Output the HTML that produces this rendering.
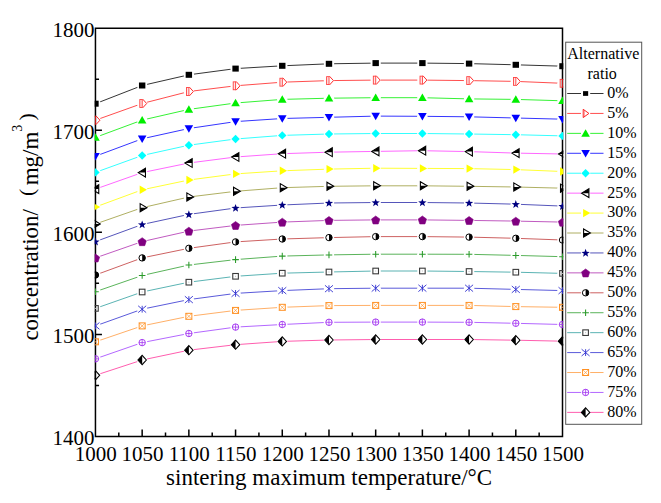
<!DOCTYPE html>
<html><head><meta charset="utf-8"><style>
html,body{margin:0;padding:0;background:#fff;}
body{width:661px;height:503px;overflow:hidden;}
svg{display:block;font-family:"Liberation Serif",serif;}
</style></head><body>
<svg width="661" height="503" viewBox="0 0 661 503">
<rect width="661" height="503" fill="#fff"/>
<defs><clipPath id="pc"><rect x="94.7" y="27" width="468.6" height="410.3"/></clipPath>
<mask id="m0" maskUnits="userSpaceOnUse" x="0" y="0" width="661" height="503"><rect x="0" y="0" width="661" height="503" fill="#fff"/><circle cx="95.45" cy="103.70" r="5.2" fill="#000"/><circle cx="142.16" cy="85.50" r="5.2" fill="#000"/><circle cx="188.86" cy="74.80" r="5.2" fill="#000"/><circle cx="235.56" cy="68.60" r="5.2" fill="#000"/><circle cx="282.27" cy="65.80" r="5.2" fill="#000"/><circle cx="328.98" cy="63.80" r="5.2" fill="#000"/><circle cx="375.68" cy="63.10" r="5.2" fill="#000"/><circle cx="422.38" cy="63.10" r="5.2" fill="#000"/><circle cx="469.09" cy="63.60" r="5.2" fill="#000"/><circle cx="515.80" cy="64.80" r="5.2" fill="#000"/><circle cx="562.50" cy="66.20" r="5.2" fill="#000"/></mask>
<mask id="m1" maskUnits="userSpaceOnUse" x="0" y="0" width="661" height="503"><rect x="0" y="0" width="661" height="503" fill="#fff"/><circle cx="95.45" cy="120.20" r="5.2" fill="#000"/><circle cx="142.16" cy="103.50" r="5.2" fill="#000"/><circle cx="188.86" cy="91.50" r="5.2" fill="#000"/><circle cx="235.56" cy="85.80" r="5.2" fill="#000"/><circle cx="282.27" cy="82.20" r="5.2" fill="#000"/><circle cx="328.98" cy="80.60" r="5.2" fill="#000"/><circle cx="375.68" cy="80.10" r="5.2" fill="#000"/><circle cx="422.38" cy="80.10" r="5.2" fill="#000"/><circle cx="469.09" cy="80.60" r="5.2" fill="#000"/><circle cx="515.80" cy="81.40" r="5.2" fill="#000"/><circle cx="562.50" cy="83.30" r="5.2" fill="#000"/></mask>
<mask id="m2" maskUnits="userSpaceOnUse" x="0" y="0" width="661" height="503"><rect x="0" y="0" width="661" height="503" fill="#fff"/><circle cx="95.45" cy="137.40" r="5.2" fill="#000"/><circle cx="142.16" cy="120.10" r="5.2" fill="#000"/><circle cx="188.86" cy="109.40" r="5.2" fill="#000"/><circle cx="235.56" cy="103.00" r="5.2" fill="#000"/><circle cx="282.27" cy="99.40" r="5.2" fill="#000"/><circle cx="328.98" cy="98.20" r="5.2" fill="#000"/><circle cx="375.68" cy="97.70" r="5.2" fill="#000"/><circle cx="422.38" cy="97.70" r="5.2" fill="#000"/><circle cx="469.09" cy="98.90" r="5.2" fill="#000"/><circle cx="515.80" cy="99.40" r="5.2" fill="#000"/><circle cx="562.50" cy="100.80" r="5.2" fill="#000"/></mask>
<mask id="m3" maskUnits="userSpaceOnUse" x="0" y="0" width="661" height="503"><rect x="0" y="0" width="661" height="503" fill="#fff"/><circle cx="95.45" cy="156.20" r="5.2" fill="#000"/><circle cx="142.16" cy="138.80" r="5.2" fill="#000"/><circle cx="188.86" cy="128.50" r="5.2" fill="#000"/><circle cx="235.56" cy="121.60" r="5.2" fill="#000"/><circle cx="282.27" cy="118.50" r="5.2" fill="#000"/><circle cx="328.98" cy="117.30" r="5.2" fill="#000"/><circle cx="375.68" cy="116.10" r="5.2" fill="#000"/><circle cx="422.38" cy="116.30" r="5.2" fill="#000"/><circle cx="469.09" cy="116.80" r="5.2" fill="#000"/><circle cx="515.80" cy="118.00" r="5.2" fill="#000"/><circle cx="562.50" cy="119.20" r="5.2" fill="#000"/></mask>
<mask id="m4" maskUnits="userSpaceOnUse" x="0" y="0" width="661" height="503"><rect x="0" y="0" width="661" height="503" fill="#fff"/><circle cx="95.45" cy="172.40" r="5.2" fill="#000"/><circle cx="142.16" cy="155.50" r="5.2" fill="#000"/><circle cx="188.86" cy="145.20" r="5.2" fill="#000"/><circle cx="235.56" cy="139.00" r="5.2" fill="#000"/><circle cx="282.27" cy="135.40" r="5.2" fill="#000"/><circle cx="328.98" cy="134.00" r="5.2" fill="#000"/><circle cx="375.68" cy="133.50" r="5.2" fill="#000"/><circle cx="422.38" cy="133.50" r="5.2" fill="#000"/><circle cx="469.09" cy="134.00" r="5.2" fill="#000"/><circle cx="515.80" cy="134.70" r="5.2" fill="#000"/><circle cx="562.50" cy="135.90" r="5.2" fill="#000"/></mask>
<mask id="m5" maskUnits="userSpaceOnUse" x="0" y="0" width="661" height="503"><rect x="0" y="0" width="661" height="503" fill="#fff"/><circle cx="95.45" cy="189.10" r="5.2" fill="#000"/><circle cx="142.16" cy="172.60" r="5.2" fill="#000"/><circle cx="188.86" cy="163.00" r="5.2" fill="#000"/><circle cx="235.56" cy="157.00" r="5.2" fill="#000"/><circle cx="282.27" cy="153.70" r="5.2" fill="#000"/><circle cx="328.98" cy="152.20" r="5.2" fill="#000"/><circle cx="375.68" cy="151.40" r="5.2" fill="#000"/><circle cx="422.38" cy="150.70" r="5.2" fill="#000"/><circle cx="469.09" cy="151.60" r="5.2" fill="#000"/><circle cx="515.80" cy="153.10" r="5.2" fill="#000"/><circle cx="562.50" cy="154.00" r="5.2" fill="#000"/></mask>
<mask id="m6" maskUnits="userSpaceOnUse" x="0" y="0" width="661" height="503"><rect x="0" y="0" width="661" height="503" fill="#fff"/><circle cx="95.45" cy="207.00" r="5.2" fill="#000"/><circle cx="142.16" cy="189.80" r="5.2" fill="#000"/><circle cx="188.86" cy="180.00" r="5.2" fill="#000"/><circle cx="235.56" cy="173.90" r="5.2" fill="#000"/><circle cx="282.27" cy="170.80" r="5.2" fill="#000"/><circle cx="328.98" cy="169.10" r="5.2" fill="#000"/><circle cx="375.68" cy="168.20" r="5.2" fill="#000"/><circle cx="422.38" cy="168.40" r="5.2" fill="#000"/><circle cx="469.09" cy="168.60" r="5.2" fill="#000"/><circle cx="515.80" cy="169.60" r="5.2" fill="#000"/><circle cx="562.50" cy="171.50" r="5.2" fill="#000"/></mask>
<mask id="m7" maskUnits="userSpaceOnUse" x="0" y="0" width="661" height="503"><rect x="0" y="0" width="661" height="503" fill="#fff"/><circle cx="95.45" cy="224.00" r="5.2" fill="#000"/><circle cx="142.16" cy="207.70" r="5.2" fill="#000"/><circle cx="188.86" cy="197.00" r="5.2" fill="#000"/><circle cx="235.56" cy="191.30" r="5.2" fill="#000"/><circle cx="282.27" cy="187.70" r="5.2" fill="#000"/><circle cx="328.98" cy="186.30" r="5.2" fill="#000"/><circle cx="375.68" cy="185.80" r="5.2" fill="#000"/><circle cx="422.38" cy="185.80" r="5.2" fill="#000"/><circle cx="469.09" cy="186.30" r="5.2" fill="#000"/><circle cx="515.80" cy="187.00" r="5.2" fill="#000"/><circle cx="562.50" cy="188.20" r="5.2" fill="#000"/></mask>
<mask id="m8" maskUnits="userSpaceOnUse" x="0" y="0" width="661" height="503"><rect x="0" y="0" width="661" height="503" fill="#fff"/><circle cx="95.45" cy="241.60" r="5.2" fill="#000"/><circle cx="142.16" cy="224.50" r="5.2" fill="#000"/><circle cx="188.86" cy="214.40" r="5.2" fill="#000"/><circle cx="235.56" cy="208.00" r="5.2" fill="#000"/><circle cx="282.27" cy="205.00" r="5.2" fill="#000"/><circle cx="328.98" cy="203.00" r="5.2" fill="#000"/><circle cx="375.68" cy="202.50" r="5.2" fill="#000"/><circle cx="422.38" cy="202.50" r="5.2" fill="#000"/><circle cx="469.09" cy="203.00" r="5.2" fill="#000"/><circle cx="515.80" cy="204.20" r="5.2" fill="#000"/><circle cx="562.50" cy="206.10" r="5.2" fill="#000"/></mask>
<mask id="m9" maskUnits="userSpaceOnUse" x="0" y="0" width="661" height="503"><rect x="0" y="0" width="661" height="503" fill="#fff"/><circle cx="95.45" cy="257.90" r="5.2" fill="#000"/><circle cx="142.16" cy="241.60" r="5.2" fill="#000"/><circle cx="188.86" cy="231.10" r="5.2" fill="#000"/><circle cx="235.56" cy="225.40" r="5.2" fill="#000"/><circle cx="282.27" cy="222.10" r="5.2" fill="#000"/><circle cx="328.98" cy="220.40" r="5.2" fill="#000"/><circle cx="375.68" cy="219.90" r="5.2" fill="#000"/><circle cx="422.38" cy="219.90" r="5.2" fill="#000"/><circle cx="469.09" cy="220.40" r="5.2" fill="#000"/><circle cx="515.80" cy="221.10" r="5.2" fill="#000"/><circle cx="562.50" cy="222.10" r="5.2" fill="#000"/></mask>
<mask id="m10" maskUnits="userSpaceOnUse" x="0" y="0" width="661" height="503"><rect x="0" y="0" width="661" height="503" fill="#fff"/><circle cx="95.45" cy="275.00" r="5.2" fill="#000"/><circle cx="142.16" cy="257.90" r="5.2" fill="#000"/><circle cx="188.86" cy="248.30" r="5.2" fill="#000"/><circle cx="235.56" cy="241.90" r="5.2" fill="#000"/><circle cx="282.27" cy="239.00" r="5.2" fill="#000"/><circle cx="328.98" cy="237.60" r="5.2" fill="#000"/><circle cx="375.68" cy="236.60" r="5.2" fill="#000"/><circle cx="422.38" cy="236.60" r="5.2" fill="#000"/><circle cx="469.09" cy="237.10" r="5.2" fill="#000"/><circle cx="515.80" cy="238.30" r="5.2" fill="#000"/><circle cx="562.50" cy="240.00" r="5.2" fill="#000"/></mask>
<mask id="m11" maskUnits="userSpaceOnUse" x="0" y="0" width="661" height="503"><rect x="0" y="0" width="661" height="503" fill="#fff"/><circle cx="95.45" cy="291.70" r="5.2" fill="#000"/><circle cx="142.16" cy="275.50" r="5.2" fill="#000"/><circle cx="188.86" cy="265.00" r="5.2" fill="#000"/><circle cx="235.56" cy="259.60" r="5.2" fill="#000"/><circle cx="282.27" cy="256.10" r="5.2" fill="#000"/><circle cx="328.98" cy="254.90" r="5.2" fill="#000"/><circle cx="375.68" cy="254.20" r="5.2" fill="#000"/><circle cx="422.38" cy="254.20" r="5.2" fill="#000"/><circle cx="469.09" cy="254.30" r="5.2" fill="#000"/><circle cx="515.80" cy="255.40" r="5.2" fill="#000"/><circle cx="562.50" cy="256.70" r="5.2" fill="#000"/></mask>
<mask id="m12" maskUnits="userSpaceOnUse" x="0" y="0" width="661" height="503"><rect x="0" y="0" width="661" height="503" fill="#fff"/><circle cx="95.45" cy="308.40" r="5.2" fill="#000"/><circle cx="142.16" cy="292.00" r="5.2" fill="#000"/><circle cx="188.86" cy="282.20" r="5.2" fill="#000"/><circle cx="235.56" cy="276.30" r="5.2" fill="#000"/><circle cx="282.27" cy="273.20" r="5.2" fill="#000"/><circle cx="328.98" cy="272.00" r="5.2" fill="#000"/><circle cx="375.68" cy="271.00" r="5.2" fill="#000"/><circle cx="422.38" cy="271.00" r="5.2" fill="#000"/><circle cx="469.09" cy="271.50" r="5.2" fill="#000"/><circle cx="515.80" cy="272.20" r="5.2" fill="#000"/><circle cx="562.50" cy="273.40" r="5.2" fill="#000"/></mask>
<mask id="m13" maskUnits="userSpaceOnUse" x="0" y="0" width="661" height="503"><rect x="0" y="0" width="661" height="503" fill="#fff"/><circle cx="95.45" cy="325.90" r="5.2" fill="#000"/><circle cx="142.16" cy="309.20" r="5.2" fill="#000"/><circle cx="188.86" cy="299.60" r="5.2" fill="#000"/><circle cx="235.56" cy="293.40" r="5.2" fill="#000"/><circle cx="282.27" cy="290.60" r="5.2" fill="#000"/><circle cx="328.98" cy="288.70" r="5.2" fill="#000"/><circle cx="375.68" cy="288.20" r="5.2" fill="#000"/><circle cx="422.38" cy="288.20" r="5.2" fill="#000"/><circle cx="469.09" cy="288.20" r="5.2" fill="#000"/><circle cx="515.80" cy="289.40" r="5.2" fill="#000"/><circle cx="562.50" cy="290.60" r="5.2" fill="#000"/></mask>
<mask id="m14" maskUnits="userSpaceOnUse" x="0" y="0" width="661" height="503"><rect x="0" y="0" width="661" height="503" fill="#fff"/><circle cx="95.45" cy="341.80" r="5.2" fill="#000"/><circle cx="142.16" cy="325.90" r="5.2" fill="#000"/><circle cx="188.86" cy="316.30" r="5.2" fill="#000"/><circle cx="235.56" cy="310.40" r="5.2" fill="#000"/><circle cx="282.27" cy="307.30" r="5.2" fill="#000"/><circle cx="328.98" cy="305.60" r="5.2" fill="#000"/><circle cx="375.68" cy="305.40" r="5.2" fill="#000"/><circle cx="422.38" cy="305.40" r="5.2" fill="#000"/><circle cx="469.09" cy="305.40" r="5.2" fill="#000"/><circle cx="515.80" cy="306.60" r="5.2" fill="#000"/><circle cx="562.50" cy="307.30" r="5.2" fill="#000"/></mask>
<mask id="m15" maskUnits="userSpaceOnUse" x="0" y="0" width="661" height="503"><rect x="0" y="0" width="661" height="503" fill="#fff"/><circle cx="95.45" cy="358.80" r="5.2" fill="#000"/><circle cx="142.16" cy="342.60" r="5.2" fill="#000"/><circle cx="188.86" cy="333.50" r="5.2" fill="#000"/><circle cx="235.56" cy="327.10" r="5.2" fill="#000"/><circle cx="282.27" cy="324.50" r="5.2" fill="#000"/><circle cx="328.98" cy="322.30" r="5.2" fill="#000"/><circle cx="375.68" cy="322.10" r="5.2" fill="#000"/><circle cx="422.38" cy="322.10" r="5.2" fill="#000"/><circle cx="469.09" cy="322.30" r="5.2" fill="#000"/><circle cx="515.80" cy="323.30" r="5.2" fill="#000"/><circle cx="562.50" cy="324.50" r="5.2" fill="#000"/></mask>
<mask id="m16" maskUnits="userSpaceOnUse" x="0" y="0" width="661" height="503"><rect x="0" y="0" width="661" height="503" fill="#fff"/><circle cx="95.45" cy="375.30" r="5.2" fill="#000"/><circle cx="142.16" cy="360.00" r="5.2" fill="#000"/><circle cx="188.86" cy="350.20" r="5.2" fill="#000"/><circle cx="235.56" cy="344.70" r="5.2" fill="#000"/><circle cx="282.27" cy="341.40" r="5.2" fill="#000"/><circle cx="328.98" cy="340.00" r="5.2" fill="#000"/><circle cx="375.68" cy="339.50" r="5.2" fill="#000"/><circle cx="422.38" cy="339.50" r="5.2" fill="#000"/><circle cx="469.09" cy="339.50" r="5.2" fill="#000"/><circle cx="515.80" cy="340.20" r="5.2" fill="#000"/><circle cx="562.50" cy="341.20" r="5.2" fill="#000"/></mask>
</defs>
<g clip-path="url(#pc)">
<path d="M95.45,103.70 L142.16,85.50 L188.86,74.80 L235.56,68.60 L282.27,65.80 L328.98,63.80 L375.68,63.10 L422.38,63.10 L469.09,63.60 L515.80,64.80 L562.50,66.20" fill="none" stroke="#000000" stroke-width="0.8" mask="url(#m0)"/>
<path d="M95.45,120.20 L142.16,103.50 L188.86,91.50 L235.56,85.80 L282.27,82.20 L328.98,80.60 L375.68,80.10 L422.38,80.10 L469.09,80.60 L515.80,81.40 L562.50,83.30" fill="none" stroke="#ff2020" stroke-width="0.8" mask="url(#m1)"/>
<path d="M95.45,137.40 L142.16,120.10 L188.86,109.40 L235.56,103.00 L282.27,99.40 L328.98,98.20 L375.68,97.70 L422.38,97.70 L469.09,98.90 L515.80,99.40 L562.50,100.80" fill="none" stroke="#00ee00" stroke-width="0.8" mask="url(#m2)"/>
<path d="M95.45,156.20 L142.16,138.80 L188.86,128.50 L235.56,121.60 L282.27,118.50 L328.98,117.30 L375.68,116.10 L422.38,116.30 L469.09,116.80 L515.80,118.00 L562.50,119.20" fill="none" stroke="#0000ff" stroke-width="0.8" mask="url(#m3)"/>
<path d="M95.45,172.40 L142.16,155.50 L188.86,145.20 L235.56,139.00 L282.27,135.40 L328.98,134.00 L375.68,133.50 L422.38,133.50 L469.09,134.00 L515.80,134.70 L562.50,135.90" fill="none" stroke="#00ffff" stroke-width="0.8" mask="url(#m4)"/>
<path d="M95.45,189.10 L142.16,172.60 L188.86,163.00 L235.56,157.00 L282.27,153.70 L328.98,152.20 L375.68,151.40 L422.38,150.70 L469.09,151.60 L515.80,153.10 L562.50,154.00" fill="none" stroke="#ff40ff" stroke-width="0.8" mask="url(#m5)"/>
<path d="M95.45,207.00 L142.16,189.80 L188.86,180.00 L235.56,173.90 L282.27,170.80 L328.98,169.10 L375.68,168.20 L422.38,168.40 L469.09,168.60 L515.80,169.60 L562.50,171.50" fill="none" stroke="#ffff00" stroke-width="0.8" mask="url(#m6)"/>
<path d="M95.45,224.00 L142.16,207.70 L188.86,197.00 L235.56,191.30 L282.27,187.70 L328.98,186.30 L375.68,185.80 L422.38,185.80 L469.09,186.30 L515.80,187.00 L562.50,188.20" fill="none" stroke="#9a9a3a" stroke-width="0.8" mask="url(#m7)"/>
<path d="M95.45,241.60 L142.16,224.50 L188.86,214.40 L235.56,208.00 L282.27,205.00 L328.98,203.00 L375.68,202.50 L422.38,202.50 L469.09,203.00 L515.80,204.20 L562.50,206.10" fill="none" stroke="#2a2aa8" stroke-width="0.8" mask="url(#m8)"/>
<path d="M95.45,257.90 L142.16,241.60 L188.86,231.10 L235.56,225.40 L282.27,222.10 L328.98,220.40 L375.68,219.90 L422.38,219.90 L469.09,220.40 L515.80,221.10 L562.50,222.10" fill="none" stroke="#b030b0" stroke-width="0.8" mask="url(#m9)"/>
<path d="M95.45,275.00 L142.16,257.90 L188.86,248.30 L235.56,241.90 L282.27,239.00 L328.98,237.60 L375.68,236.60 L422.38,236.60 L469.09,237.10 L515.80,238.30 L562.50,240.00" fill="none" stroke="#c03838" stroke-width="0.8" mask="url(#m10)"/>
<path d="M95.45,291.70 L142.16,275.50 L188.86,265.00 L235.56,259.60 L282.27,256.10 L328.98,254.90 L375.68,254.20 L422.38,254.20 L469.09,254.30 L515.80,255.40 L562.50,256.70" fill="none" stroke="#30a030" stroke-width="0.8" mask="url(#m11)"/>
<path d="M95.45,308.40 L142.16,292.00 L188.86,282.20 L235.56,276.30 L282.27,273.20 L328.98,272.00 L375.68,271.00 L422.38,271.00 L469.09,271.50 L515.80,272.20 L562.50,273.40" fill="none" stroke="#30a0a0" stroke-width="0.8" mask="url(#m12)"/>
<path d="M95.45,325.90 L142.16,309.20 L188.86,299.60 L235.56,293.40 L282.27,290.60 L328.98,288.70 L375.68,288.20 L422.38,288.20 L469.09,288.20 L515.80,289.40 L562.50,290.60" fill="none" stroke="#3030d0" stroke-width="0.8" mask="url(#m13)"/>
<path d="M95.45,341.80 L142.16,325.90 L188.86,316.30 L235.56,310.40 L282.27,307.30 L328.98,305.60 L375.68,305.40 L422.38,305.40 L469.09,305.40 L515.80,306.60 L562.50,307.30" fill="none" stroke="#ff9a40" stroke-width="0.8" mask="url(#m14)"/>
<path d="M95.45,358.80 L142.16,342.60 L188.86,333.50 L235.56,327.10 L282.27,324.50 L328.98,322.30 L375.68,322.10 L422.38,322.10 L469.09,322.30 L515.80,323.30 L562.50,324.50" fill="none" stroke="#a040ff" stroke-width="0.8" mask="url(#m15)"/>
<path d="M95.45,375.30 L142.16,360.00 L188.86,350.20 L235.56,344.70 L282.27,341.40 L328.98,340.00 L375.68,339.50 L422.38,339.50 L469.09,339.50 L515.80,340.20 L562.50,341.20" fill="none" stroke="#ff3399" stroke-width="0.8" mask="url(#m16)"/>
</g>
<path d="M95.45,28.3 V436.4 H562.5 V28.3 Z" fill="none" stroke="#000" stroke-width="1.5"/>
<path d="M95.45,385.39 h3.6 M95.45,334.38 h6.5 M95.45,283.36 h3.6 M95.45,232.35 h6.5 M95.45,181.34 h3.6 M95.45,130.32 h6.5 M95.45,79.31 h3.6 M118.80,436.4 v-3.8 M142.16,436.4 v-7 M165.51,436.4 v-3.8 M188.86,436.4 v-7 M212.21,436.4 v-3.8 M235.56,436.4 v-7 M258.92,436.4 v-3.8 M282.27,436.4 v-7 M305.62,436.4 v-3.8 M328.98,436.4 v-7 M352.33,436.4 v-3.8 M375.68,436.4 v-7 M399.03,436.4 v-3.8 M422.38,436.4 v-7 M445.74,436.4 v-3.8 M469.09,436.4 v-7 M492.44,436.4 v-3.8 M515.80,436.4 v-7 M539.15,436.4 v-3.8" stroke="#000" stroke-width="1.5" fill="none"/>
<g clip-path="url(#pc)">
<rect x="92.25" y="100.70" width="6.40" height="6.00" fill="#000"/>
<rect x="138.96" y="82.50" width="6.40" height="6.00" fill="#000"/>
<rect x="185.66" y="71.80" width="6.40" height="6.00" fill="#000"/>
<rect x="232.37" y="65.60" width="6.40" height="6.00" fill="#000"/>
<rect x="279.07" y="62.80" width="6.40" height="6.00" fill="#000"/>
<rect x="325.78" y="60.80" width="6.40" height="6.00" fill="#000"/>
<rect x="372.48" y="60.10" width="6.40" height="6.00" fill="#000"/>
<rect x="419.19" y="60.10" width="6.40" height="6.00" fill="#000"/>
<rect x="465.89" y="60.60" width="6.40" height="6.00" fill="#000"/>
<rect x="512.60" y="61.80" width="6.40" height="6.00" fill="#000"/>
<rect x="559.30" y="63.20" width="6.40" height="6.00" fill="#000"/>
<rect x="93.10" y="116.25" width="2.40" height="7.90" fill="#ff2020" fill-opacity="0.12" stroke="#ff2020" stroke-opacity="0.85" stroke-width="0.9"/><path d="M95.95,115.80 L99.95,120.20 L95.95,124.60" fill="none" stroke="#ff2020" stroke-width="0.95"/>
<rect x="139.80" y="99.55" width="2.40" height="7.90" fill="#ff2020" fill-opacity="0.12" stroke="#ff2020" stroke-opacity="0.85" stroke-width="0.9"/><path d="M142.66,99.10 L146.66,103.50 L142.66,107.90" fill="none" stroke="#ff2020" stroke-width="0.95"/>
<rect x="186.51" y="87.55" width="2.40" height="7.90" fill="#ff2020" fill-opacity="0.12" stroke="#ff2020" stroke-opacity="0.85" stroke-width="0.9"/><path d="M189.36,87.10 L193.36,91.50 L189.36,95.90" fill="none" stroke="#ff2020" stroke-width="0.95"/>
<rect x="233.21" y="81.85" width="2.40" height="7.90" fill="#ff2020" fill-opacity="0.12" stroke="#ff2020" stroke-opacity="0.85" stroke-width="0.9"/><path d="M236.06,81.40 L240.06,85.80 L236.06,90.20" fill="none" stroke="#ff2020" stroke-width="0.95"/>
<rect x="279.92" y="78.25" width="2.40" height="7.90" fill="#ff2020" fill-opacity="0.12" stroke="#ff2020" stroke-opacity="0.85" stroke-width="0.9"/><path d="M282.77,77.80 L286.77,82.20 L282.77,86.60" fill="none" stroke="#ff2020" stroke-width="0.95"/>
<rect x="326.62" y="76.65" width="2.40" height="7.90" fill="#ff2020" fill-opacity="0.12" stroke="#ff2020" stroke-opacity="0.85" stroke-width="0.9"/><path d="M329.48,76.20 L333.48,80.60 L329.48,85.00" fill="none" stroke="#ff2020" stroke-width="0.95"/>
<rect x="373.33" y="76.15" width="2.40" height="7.90" fill="#ff2020" fill-opacity="0.12" stroke="#ff2020" stroke-opacity="0.85" stroke-width="0.9"/><path d="M376.18,75.70 L380.18,80.10 L376.18,84.50" fill="none" stroke="#ff2020" stroke-width="0.95"/>
<rect x="420.03" y="76.15" width="2.40" height="7.90" fill="#ff2020" fill-opacity="0.12" stroke="#ff2020" stroke-opacity="0.85" stroke-width="0.9"/><path d="M422.88,75.70 L426.88,80.10 L422.88,84.50" fill="none" stroke="#ff2020" stroke-width="0.95"/>
<rect x="466.74" y="76.65" width="2.40" height="7.90" fill="#ff2020" fill-opacity="0.12" stroke="#ff2020" stroke-opacity="0.85" stroke-width="0.9"/><path d="M469.59,76.20 L473.59,80.60 L469.59,85.00" fill="none" stroke="#ff2020" stroke-width="0.95"/>
<rect x="513.45" y="77.45" width="2.40" height="7.90" fill="#ff2020" fill-opacity="0.12" stroke="#ff2020" stroke-opacity="0.85" stroke-width="0.9"/><path d="M516.30,77.00 L520.30,81.40 L516.30,85.80" fill="none" stroke="#ff2020" stroke-width="0.95"/>
<rect x="560.15" y="79.35" width="2.40" height="7.90" fill="#ff2020" fill-opacity="0.12" stroke="#ff2020" stroke-opacity="0.85" stroke-width="0.9"/><path d="M563.00,78.90 L567.00,83.30 L563.00,87.70" fill="none" stroke="#ff2020" stroke-width="0.95"/>
<path d="M95.45,133.20 L99.75,140.70 L91.15,140.70 Z" fill="#00ee00"/>
<path d="M142.16,115.90 L146.46,123.40 L137.85,123.40 Z" fill="#00ee00"/>
<path d="M188.86,105.20 L193.16,112.70 L184.56,112.70 Z" fill="#00ee00"/>
<path d="M235.56,98.80 L239.87,106.30 L231.26,106.30 Z" fill="#00ee00"/>
<path d="M282.27,95.20 L286.57,102.70 L277.97,102.70 Z" fill="#00ee00"/>
<path d="M328.98,94.00 L333.28,101.50 L324.68,101.50 Z" fill="#00ee00"/>
<path d="M375.68,93.50 L379.98,101.00 L371.38,101.00 Z" fill="#00ee00"/>
<path d="M422.38,93.50 L426.69,101.00 L418.08,101.00 Z" fill="#00ee00"/>
<path d="M469.09,94.70 L473.39,102.20 L464.79,102.20 Z" fill="#00ee00"/>
<path d="M515.80,95.20 L520.10,102.70 L511.50,102.70 Z" fill="#00ee00"/>
<path d="M562.50,96.60 L566.80,104.10 L558.20,104.10 Z" fill="#00ee00"/>
<path d="M95.45,160.40 L99.75,152.90 L91.15,152.90 Z" fill="#0000ff"/>
<path d="M142.16,143.00 L146.46,135.50 L137.85,135.50 Z" fill="#0000ff"/>
<path d="M188.86,132.70 L193.16,125.20 L184.56,125.20 Z" fill="#0000ff"/>
<path d="M235.56,125.80 L239.87,118.30 L231.26,118.30 Z" fill="#0000ff"/>
<path d="M282.27,122.70 L286.57,115.20 L277.97,115.20 Z" fill="#0000ff"/>
<path d="M328.98,121.50 L333.28,114.00 L324.68,114.00 Z" fill="#0000ff"/>
<path d="M375.68,120.30 L379.98,112.80 L371.38,112.80 Z" fill="#0000ff"/>
<path d="M422.38,120.50 L426.69,113.00 L418.08,113.00 Z" fill="#0000ff"/>
<path d="M469.09,121.00 L473.39,113.50 L464.79,113.50 Z" fill="#0000ff"/>
<path d="M515.80,122.20 L520.10,114.70 L511.50,114.70 Z" fill="#0000ff"/>
<path d="M562.50,123.40 L566.80,115.90 L558.20,115.90 Z" fill="#0000ff"/>
<path d="M95.45,168.20 L99.65,172.40 L95.45,176.60 L91.25,172.40 Z" fill="#00ffff"/>
<path d="M142.16,151.30 L146.35,155.50 L142.16,159.70 L137.96,155.50 Z" fill="#00ffff"/>
<path d="M188.86,141.00 L193.06,145.20 L188.86,149.40 L184.66,145.20 Z" fill="#00ffff"/>
<path d="M235.56,134.80 L239.76,139.00 L235.56,143.20 L231.37,139.00 Z" fill="#00ffff"/>
<path d="M282.27,131.20 L286.47,135.40 L282.27,139.60 L278.07,135.40 Z" fill="#00ffff"/>
<path d="M328.98,129.80 L333.18,134.00 L328.98,138.20 L324.78,134.00 Z" fill="#00ffff"/>
<path d="M375.68,129.30 L379.88,133.50 L375.68,137.70 L371.48,133.50 Z" fill="#00ffff"/>
<path d="M422.38,129.30 L426.58,133.50 L422.38,137.70 L418.19,133.50 Z" fill="#00ffff"/>
<path d="M469.09,129.80 L473.29,134.00 L469.09,138.20 L464.89,134.00 Z" fill="#00ffff"/>
<path d="M515.80,130.50 L520.00,134.70 L515.80,138.90 L511.60,134.70 Z" fill="#00ffff"/>
<path d="M562.50,131.70 L566.70,135.90 L562.50,140.10 L558.30,135.90 Z" fill="#00ffff"/>
<path d="M91.45,189.10 L98.75,184.70 L98.75,189.10 Z" fill="#000"/><path d="M91.45,189.10 L98.75,184.70 L98.75,193.50 Z" fill="none" stroke="#000" stroke-width="1.1" stroke-linejoin="miter"/>
<path d="M138.16,172.60 L145.46,168.20 L145.46,172.60 Z" fill="#000"/><path d="M138.16,172.60 L145.46,168.20 L145.46,177.00 Z" fill="none" stroke="#000" stroke-width="1.1" stroke-linejoin="miter"/>
<path d="M184.86,163.00 L192.16,158.60 L192.16,163.00 Z" fill="#000"/><path d="M184.86,163.00 L192.16,158.60 L192.16,167.40 Z" fill="none" stroke="#000" stroke-width="1.1" stroke-linejoin="miter"/>
<path d="M231.56,157.00 L238.87,152.60 L238.87,157.00 Z" fill="#000"/><path d="M231.56,157.00 L238.87,152.60 L238.87,161.40 Z" fill="none" stroke="#000" stroke-width="1.1" stroke-linejoin="miter"/>
<path d="M278.27,153.70 L285.57,149.30 L285.57,153.70 Z" fill="#000"/><path d="M278.27,153.70 L285.57,149.30 L285.57,158.10 Z" fill="none" stroke="#000" stroke-width="1.1" stroke-linejoin="miter"/>
<path d="M324.98,152.20 L332.28,147.80 L332.28,152.20 Z" fill="#000"/><path d="M324.98,152.20 L332.28,147.80 L332.28,156.60 Z" fill="none" stroke="#000" stroke-width="1.1" stroke-linejoin="miter"/>
<path d="M371.68,151.40 L378.98,147.00 L378.98,151.40 Z" fill="#000"/><path d="M371.68,151.40 L378.98,147.00 L378.98,155.80 Z" fill="none" stroke="#000" stroke-width="1.1" stroke-linejoin="miter"/>
<path d="M418.38,150.70 L425.69,146.30 L425.69,150.70 Z" fill="#000"/><path d="M418.38,150.70 L425.69,146.30 L425.69,155.10 Z" fill="none" stroke="#000" stroke-width="1.1" stroke-linejoin="miter"/>
<path d="M465.09,151.60 L472.39,147.20 L472.39,151.60 Z" fill="#000"/><path d="M465.09,151.60 L472.39,147.20 L472.39,156.00 Z" fill="none" stroke="#000" stroke-width="1.1" stroke-linejoin="miter"/>
<path d="M511.80,153.10 L519.10,148.70 L519.10,153.10 Z" fill="#000"/><path d="M511.80,153.10 L519.10,148.70 L519.10,157.50 Z" fill="none" stroke="#000" stroke-width="1.1" stroke-linejoin="miter"/>
<path d="M558.50,154.00 L565.80,149.60 L565.80,154.00 Z" fill="#000"/><path d="M558.50,154.00 L565.80,149.60 L565.80,158.40 Z" fill="none" stroke="#000" stroke-width="1.1" stroke-linejoin="miter"/>
<path d="M100.25,207.00 L92.95,202.80 L92.95,211.20 Z" fill="#ffff00"/>
<path d="M146.96,189.80 L139.66,185.60 L139.66,194.00 Z" fill="#ffff00"/>
<path d="M193.66,180.00 L186.36,175.80 L186.36,184.20 Z" fill="#ffff00"/>
<path d="M240.37,173.90 L233.06,169.70 L233.06,178.10 Z" fill="#ffff00"/>
<path d="M287.07,170.80 L279.77,166.60 L279.77,175.00 Z" fill="#ffff00"/>
<path d="M333.78,169.10 L326.48,164.90 L326.48,173.30 Z" fill="#ffff00"/>
<path d="M380.48,168.20 L373.18,164.00 L373.18,172.40 Z" fill="#ffff00"/>
<path d="M427.19,168.40 L419.88,164.20 L419.88,172.60 Z" fill="#ffff00"/>
<path d="M473.89,168.60 L466.59,164.40 L466.59,172.80 Z" fill="#ffff00"/>
<path d="M520.60,169.60 L513.30,165.40 L513.30,173.80 Z" fill="#ffff00"/>
<path d="M567.30,171.50 L560.00,167.30 L560.00,175.70 Z" fill="#ffff00"/>
<path d="M100.25,224.00 L93.45,228.10 L93.45,224.00 Z" fill="#000"/><path d="M100.25,224.00 L93.45,219.90 L93.45,228.10 Z" fill="none" stroke="#000" stroke-width="1.1"/>
<path d="M146.96,207.70 L140.16,211.80 L140.16,207.70 Z" fill="#000"/><path d="M146.96,207.70 L140.16,203.60 L140.16,211.80 Z" fill="none" stroke="#000" stroke-width="1.1"/>
<path d="M193.66,197.00 L186.86,201.10 L186.86,197.00 Z" fill="#000"/><path d="M193.66,197.00 L186.86,192.90 L186.86,201.10 Z" fill="none" stroke="#000" stroke-width="1.1"/>
<path d="M240.37,191.30 L233.56,195.40 L233.56,191.30 Z" fill="#000"/><path d="M240.37,191.30 L233.56,187.20 L233.56,195.40 Z" fill="none" stroke="#000" stroke-width="1.1"/>
<path d="M287.07,187.70 L280.27,191.80 L280.27,187.70 Z" fill="#000"/><path d="M287.07,187.70 L280.27,183.60 L280.27,191.80 Z" fill="none" stroke="#000" stroke-width="1.1"/>
<path d="M333.77,186.30 L326.98,190.40 L326.98,186.30 Z" fill="#000"/><path d="M333.77,186.30 L326.98,182.20 L326.98,190.40 Z" fill="none" stroke="#000" stroke-width="1.1"/>
<path d="M380.48,185.80 L373.68,189.90 L373.68,185.80 Z" fill="#000"/><path d="M380.48,185.80 L373.68,181.70 L373.68,189.90 Z" fill="none" stroke="#000" stroke-width="1.1"/>
<path d="M427.18,185.80 L420.38,189.90 L420.38,185.80 Z" fill="#000"/><path d="M427.18,185.80 L420.38,181.70 L420.38,189.90 Z" fill="none" stroke="#000" stroke-width="1.1"/>
<path d="M473.89,186.30 L467.09,190.40 L467.09,186.30 Z" fill="#000"/><path d="M473.89,186.30 L467.09,182.20 L467.09,190.40 Z" fill="none" stroke="#000" stroke-width="1.1"/>
<path d="M520.60,187.00 L513.80,191.10 L513.80,187.00 Z" fill="#000"/><path d="M520.60,187.00 L513.80,182.90 L513.80,191.10 Z" fill="none" stroke="#000" stroke-width="1.1"/>
<path d="M567.30,188.20 L560.50,192.30 L560.50,188.20 Z" fill="#000"/><path d="M567.30,188.20 L560.50,184.10 L560.50,192.30 Z" fill="none" stroke="#000" stroke-width="1.1"/>
<polygon points="95.45,237.50 96.51,240.44 99.63,240.54 97.16,242.46 98.04,245.46 95.45,243.70 92.86,245.46 93.74,242.46 91.27,240.54 94.39,240.44" fill="#000080"/>
<polygon points="142.16,220.40 143.21,223.34 146.34,223.44 143.87,225.36 144.74,228.36 142.16,226.60 139.57,228.36 140.44,225.36 137.97,223.44 141.10,223.34" fill="#000080"/>
<polygon points="188.86,210.30 189.92,213.24 193.04,213.34 190.57,215.26 191.45,218.26 188.86,216.50 186.27,218.26 187.15,215.26 184.68,213.34 187.80,213.24" fill="#000080"/>
<polygon points="235.56,203.90 236.62,206.84 239.75,206.94 237.28,208.86 238.15,211.86 235.56,210.10 232.98,211.86 233.85,208.86 231.38,206.94 234.51,206.84" fill="#000080"/>
<polygon points="282.27,200.90 283.33,203.84 286.45,203.94 283.98,205.86 284.86,208.86 282.27,207.10 279.68,208.86 280.56,205.86 278.09,203.94 281.21,203.84" fill="#000080"/>
<polygon points="328.98,198.90 330.03,201.84 333.16,201.94 330.69,203.86 331.56,206.86 328.98,205.10 326.39,206.86 327.26,203.86 324.79,201.94 327.92,201.84" fill="#000080"/>
<polygon points="375.68,198.40 376.74,201.34 379.86,201.44 377.39,203.36 378.27,206.36 375.68,204.60 373.09,206.36 373.97,203.36 371.50,201.44 374.62,201.34" fill="#000080"/>
<polygon points="422.38,198.40 423.44,201.34 426.57,201.44 424.10,203.36 424.97,206.36 422.38,204.60 419.80,206.36 420.67,203.36 418.20,201.44 421.33,201.34" fill="#000080"/>
<polygon points="469.09,198.90 470.15,201.84 473.27,201.94 470.80,203.86 471.68,206.86 469.09,205.10 466.50,206.86 467.38,203.86 464.91,201.94 468.03,201.84" fill="#000080"/>
<polygon points="515.80,200.10 516.85,203.04 519.98,203.14 517.51,205.06 518.38,208.06 515.80,206.30 513.21,208.06 514.08,205.06 511.61,203.14 514.74,203.04" fill="#000080"/>
<polygon points="562.50,202.00 563.56,204.94 566.68,205.04 564.21,206.96 565.09,209.96 562.50,208.20 559.91,209.96 560.79,206.96 558.32,205.04 561.44,204.94" fill="#000080"/>
<polygon points="95.45,254.00 99.63,257.04 98.04,261.96 92.86,261.96 91.27,257.04" fill="#800080" stroke="#800080" stroke-width="0.6" stroke-linejoin="round"/>
<polygon points="142.16,237.70 146.34,240.74 144.74,245.66 139.57,245.66 137.97,240.74" fill="#800080" stroke="#800080" stroke-width="0.6" stroke-linejoin="round"/>
<polygon points="188.86,227.20 193.04,230.24 191.45,235.16 186.27,235.16 184.68,230.24" fill="#800080" stroke="#800080" stroke-width="0.6" stroke-linejoin="round"/>
<polygon points="235.56,221.50 239.75,224.54 238.15,229.46 232.98,229.46 231.38,224.54" fill="#800080" stroke="#800080" stroke-width="0.6" stroke-linejoin="round"/>
<polygon points="282.27,218.20 286.45,221.24 284.86,226.16 279.68,226.16 278.09,221.24" fill="#800080" stroke="#800080" stroke-width="0.6" stroke-linejoin="round"/>
<polygon points="328.98,216.50 333.16,219.54 331.56,224.46 326.39,224.46 324.79,219.54" fill="#800080" stroke="#800080" stroke-width="0.6" stroke-linejoin="round"/>
<polygon points="375.68,216.00 379.86,219.04 378.27,223.96 373.09,223.96 371.50,219.04" fill="#800080" stroke="#800080" stroke-width="0.6" stroke-linejoin="round"/>
<polygon points="422.38,216.00 426.57,219.04 424.97,223.96 419.80,223.96 418.20,219.04" fill="#800080" stroke="#800080" stroke-width="0.6" stroke-linejoin="round"/>
<polygon points="469.09,216.50 473.27,219.54 471.68,224.46 466.50,224.46 464.91,219.54" fill="#800080" stroke="#800080" stroke-width="0.6" stroke-linejoin="round"/>
<polygon points="515.80,217.20 519.98,220.24 518.38,225.16 513.21,225.16 511.61,220.24" fill="#800080" stroke="#800080" stroke-width="0.6" stroke-linejoin="round"/>
<polygon points="562.50,218.20 566.68,221.24 565.09,226.16 559.91,226.16 558.32,221.24" fill="#800080" stroke="#800080" stroke-width="0.6" stroke-linejoin="round"/>
<path d="M95.45,271.80 A3.20,3.20 0 0 1 95.45,278.20 Z" fill="#000"/><circle cx="95.45" cy="275.00" r="3.20" fill="none" stroke="#000" stroke-width="1"/>
<path d="M142.16,254.70 A3.20,3.20 0 0 1 142.16,261.10 Z" fill="#000"/><circle cx="142.16" cy="257.90" r="3.20" fill="none" stroke="#000" stroke-width="1"/>
<path d="M188.86,245.10 A3.20,3.20 0 0 1 188.86,251.50 Z" fill="#000"/><circle cx="188.86" cy="248.30" r="3.20" fill="none" stroke="#000" stroke-width="1"/>
<path d="M235.56,238.70 A3.20,3.20 0 0 1 235.56,245.10 Z" fill="#000"/><circle cx="235.56" cy="241.90" r="3.20" fill="none" stroke="#000" stroke-width="1"/>
<path d="M282.27,235.80 A3.20,3.20 0 0 1 282.27,242.20 Z" fill="#000"/><circle cx="282.27" cy="239.00" r="3.20" fill="none" stroke="#000" stroke-width="1"/>
<path d="M328.98,234.40 A3.20,3.20 0 0 1 328.98,240.80 Z" fill="#000"/><circle cx="328.98" cy="237.60" r="3.20" fill="none" stroke="#000" stroke-width="1"/>
<path d="M375.68,233.40 A3.20,3.20 0 0 1 375.68,239.80 Z" fill="#000"/><circle cx="375.68" cy="236.60" r="3.20" fill="none" stroke="#000" stroke-width="1"/>
<path d="M422.38,233.40 A3.20,3.20 0 0 1 422.38,239.80 Z" fill="#000"/><circle cx="422.38" cy="236.60" r="3.20" fill="none" stroke="#000" stroke-width="1"/>
<path d="M469.09,233.90 A3.20,3.20 0 0 1 469.09,240.30 Z" fill="#000"/><circle cx="469.09" cy="237.10" r="3.20" fill="none" stroke="#000" stroke-width="1"/>
<path d="M515.80,235.10 A3.20,3.20 0 0 1 515.80,241.50 Z" fill="#000"/><circle cx="515.80" cy="238.30" r="3.20" fill="none" stroke="#000" stroke-width="1"/>
<path d="M562.50,236.80 A3.20,3.20 0 0 1 562.50,243.20 Z" fill="#000"/><circle cx="562.50" cy="240.00" r="3.20" fill="none" stroke="#000" stroke-width="1"/>
<path d="M92.15,291.70 H98.75 M95.45,288.40 V295.00" stroke="#2a9a2a" stroke-width="1.05" fill="none"/>
<path d="M138.85,275.50 H145.46 M142.16,272.20 V278.80" stroke="#2a9a2a" stroke-width="1.05" fill="none"/>
<path d="M185.56,265.00 H192.16 M188.86,261.70 V268.30" stroke="#2a9a2a" stroke-width="1.05" fill="none"/>
<path d="M232.26,259.60 H238.87 M235.56,256.30 V262.90" stroke="#2a9a2a" stroke-width="1.05" fill="none"/>
<path d="M278.97,256.10 H285.57 M282.27,252.80 V259.40" stroke="#2a9a2a" stroke-width="1.05" fill="none"/>
<path d="M325.68,254.90 H332.28 M328.98,251.60 V258.20" stroke="#2a9a2a" stroke-width="1.05" fill="none"/>
<path d="M372.38,254.20 H378.98 M375.68,250.90 V257.50" stroke="#2a9a2a" stroke-width="1.05" fill="none"/>
<path d="M419.08,254.20 H425.69 M422.38,250.90 V257.50" stroke="#2a9a2a" stroke-width="1.05" fill="none"/>
<path d="M465.79,254.30 H472.39 M469.09,251.00 V257.60" stroke="#2a9a2a" stroke-width="1.05" fill="none"/>
<path d="M512.50,255.40 H519.10 M515.80,252.10 V258.70" stroke="#2a9a2a" stroke-width="1.05" fill="none"/>
<path d="M559.20,256.70 H565.80 M562.50,253.40 V260.00" stroke="#2a9a2a" stroke-width="1.05" fill="none"/>
<rect x="92.65" y="305.60" width="5.60" height="5.60" fill="none" stroke="#3a3a3a" stroke-width="1.1"/><rect x="94.95" y="307.90" width="1" height="1" fill="#bbb"/>
<rect x="139.35" y="289.20" width="5.60" height="5.60" fill="none" stroke="#3a3a3a" stroke-width="1.1"/><rect x="141.66" y="291.50" width="1" height="1" fill="#bbb"/>
<rect x="186.06" y="279.40" width="5.60" height="5.60" fill="none" stroke="#3a3a3a" stroke-width="1.1"/><rect x="188.36" y="281.70" width="1" height="1" fill="#bbb"/>
<rect x="232.76" y="273.50" width="5.60" height="5.60" fill="none" stroke="#3a3a3a" stroke-width="1.1"/><rect x="235.06" y="275.80" width="1" height="1" fill="#bbb"/>
<rect x="279.47" y="270.40" width="5.60" height="5.60" fill="none" stroke="#3a3a3a" stroke-width="1.1"/><rect x="281.77" y="272.70" width="1" height="1" fill="#bbb"/>
<rect x="326.18" y="269.20" width="5.60" height="5.60" fill="none" stroke="#3a3a3a" stroke-width="1.1"/><rect x="328.48" y="271.50" width="1" height="1" fill="#bbb"/>
<rect x="372.88" y="268.20" width="5.60" height="5.60" fill="none" stroke="#3a3a3a" stroke-width="1.1"/><rect x="375.18" y="270.50" width="1" height="1" fill="#bbb"/>
<rect x="419.58" y="268.20" width="5.60" height="5.60" fill="none" stroke="#3a3a3a" stroke-width="1.1"/><rect x="421.88" y="270.50" width="1" height="1" fill="#bbb"/>
<rect x="466.29" y="268.70" width="5.60" height="5.60" fill="none" stroke="#3a3a3a" stroke-width="1.1"/><rect x="468.59" y="271.00" width="1" height="1" fill="#bbb"/>
<rect x="513.00" y="269.40" width="5.60" height="5.60" fill="none" stroke="#3a3a3a" stroke-width="1.1"/><rect x="515.30" y="271.70" width="1" height="1" fill="#bbb"/>
<rect x="559.70" y="270.60" width="5.60" height="5.60" fill="none" stroke="#3a3a3a" stroke-width="1.1"/><rect x="562.00" y="272.90" width="1" height="1" fill="#bbb"/>
<path d="M95.45,322.50 V329.30 M91.45,322.50 L99.45,329.30 M99.45,322.50 L91.45,329.30" stroke="#3030d0" stroke-width="0.9" fill="none"/>
<path d="M142.16,305.80 V312.60 M138.16,305.80 L146.16,312.60 M146.16,305.80 L138.16,312.60" stroke="#3030d0" stroke-width="0.9" fill="none"/>
<path d="M188.86,296.20 V303.00 M184.86,296.20 L192.86,303.00 M192.86,296.20 L184.86,303.00" stroke="#3030d0" stroke-width="0.9" fill="none"/>
<path d="M235.56,290.00 V296.80 M231.56,290.00 L239.56,296.80 M239.56,290.00 L231.56,296.80" stroke="#3030d0" stroke-width="0.9" fill="none"/>
<path d="M282.27,287.20 V294.00 M278.27,287.20 L286.27,294.00 M286.27,287.20 L278.27,294.00" stroke="#3030d0" stroke-width="0.9" fill="none"/>
<path d="M328.98,285.30 V292.10 M324.98,285.30 L332.98,292.10 M332.98,285.30 L324.98,292.10" stroke="#3030d0" stroke-width="0.9" fill="none"/>
<path d="M375.68,284.80 V291.60 M371.68,284.80 L379.68,291.60 M379.68,284.80 L371.68,291.60" stroke="#3030d0" stroke-width="0.9" fill="none"/>
<path d="M422.38,284.80 V291.60 M418.38,284.80 L426.38,291.60 M426.38,284.80 L418.38,291.60" stroke="#3030d0" stroke-width="0.9" fill="none"/>
<path d="M469.09,284.80 V291.60 M465.09,284.80 L473.09,291.60 M473.09,284.80 L465.09,291.60" stroke="#3030d0" stroke-width="0.9" fill="none"/>
<path d="M515.80,286.00 V292.80 M511.80,286.00 L519.80,292.80 M519.80,286.00 L511.80,292.80" stroke="#3030d0" stroke-width="0.9" fill="none"/>
<path d="M562.50,287.20 V294.00 M558.50,287.20 L566.50,294.00 M566.50,287.20 L558.50,294.00" stroke="#3030d0" stroke-width="0.9" fill="none"/>
<rect x="92.45" y="338.80" width="6.00" height="6.00" fill="none" stroke="#ff8c1a" stroke-width="0.95"/><path d="M92.45,338.80 L98.45,344.80 M98.45,338.80 L92.45,344.80" stroke="#ff8c1a" stroke-width="0.6" fill="none"/>
<rect x="139.16" y="322.90" width="6.00" height="6.00" fill="none" stroke="#ff8c1a" stroke-width="0.95"/><path d="M139.16,322.90 L145.16,328.90 M145.16,322.90 L139.16,328.90" stroke="#ff8c1a" stroke-width="0.6" fill="none"/>
<rect x="185.86" y="313.30" width="6.00" height="6.00" fill="none" stroke="#ff8c1a" stroke-width="0.95"/><path d="M185.86,313.30 L191.86,319.30 M191.86,313.30 L185.86,319.30" stroke="#ff8c1a" stroke-width="0.6" fill="none"/>
<rect x="232.56" y="307.40" width="6.00" height="6.00" fill="none" stroke="#ff8c1a" stroke-width="0.95"/><path d="M232.56,307.40 L238.56,313.40 M238.56,307.40 L232.56,313.40" stroke="#ff8c1a" stroke-width="0.6" fill="none"/>
<rect x="279.27" y="304.30" width="6.00" height="6.00" fill="none" stroke="#ff8c1a" stroke-width="0.95"/><path d="M279.27,304.30 L285.27,310.30 M285.27,304.30 L279.27,310.30" stroke="#ff8c1a" stroke-width="0.6" fill="none"/>
<rect x="325.98" y="302.60" width="6.00" height="6.00" fill="none" stroke="#ff8c1a" stroke-width="0.95"/><path d="M325.98,302.60 L331.98,308.60 M331.98,302.60 L325.98,308.60" stroke="#ff8c1a" stroke-width="0.6" fill="none"/>
<rect x="372.68" y="302.40" width="6.00" height="6.00" fill="none" stroke="#ff8c1a" stroke-width="0.95"/><path d="M372.68,302.40 L378.68,308.40 M378.68,302.40 L372.68,308.40" stroke="#ff8c1a" stroke-width="0.6" fill="none"/>
<rect x="419.38" y="302.40" width="6.00" height="6.00" fill="none" stroke="#ff8c1a" stroke-width="0.95"/><path d="M419.38,302.40 L425.38,308.40 M425.38,302.40 L419.38,308.40" stroke="#ff8c1a" stroke-width="0.6" fill="none"/>
<rect x="466.09" y="302.40" width="6.00" height="6.00" fill="none" stroke="#ff8c1a" stroke-width="0.95"/><path d="M466.09,302.40 L472.09,308.40 M472.09,302.40 L466.09,308.40" stroke="#ff8c1a" stroke-width="0.6" fill="none"/>
<rect x="512.80" y="303.60" width="6.00" height="6.00" fill="none" stroke="#ff8c1a" stroke-width="0.95"/><path d="M512.80,303.60 L518.80,309.60 M518.80,303.60 L512.80,309.60" stroke="#ff8c1a" stroke-width="0.6" fill="none"/>
<rect x="559.50" y="304.30" width="6.00" height="6.00" fill="none" stroke="#ff8c1a" stroke-width="0.95"/><path d="M559.50,304.30 L565.50,310.30 M565.50,304.30 L559.50,310.30" stroke="#ff8c1a" stroke-width="0.6" fill="none"/>
<circle cx="95.45" cy="358.80" r="3.20" fill="none" stroke="#a030f0" stroke-width="0.95"/><path d="M92.25,358.80 H98.65 M95.45,355.60 V362.00" stroke="#a030f0" stroke-width="0.75" fill="none"/>
<circle cx="142.16" cy="342.60" r="3.20" fill="none" stroke="#a030f0" stroke-width="0.95"/><path d="M138.96,342.60 H145.35 M142.16,339.40 V345.80" stroke="#a030f0" stroke-width="0.75" fill="none"/>
<circle cx="188.86" cy="333.50" r="3.20" fill="none" stroke="#a030f0" stroke-width="0.95"/><path d="M185.66,333.50 H192.06 M188.86,330.30 V336.70" stroke="#a030f0" stroke-width="0.75" fill="none"/>
<circle cx="235.56" cy="327.10" r="3.20" fill="none" stroke="#a030f0" stroke-width="0.95"/><path d="M232.37,327.10 H238.76 M235.56,323.90 V330.30" stroke="#a030f0" stroke-width="0.75" fill="none"/>
<circle cx="282.27" cy="324.50" r="3.20" fill="none" stroke="#a030f0" stroke-width="0.95"/><path d="M279.07,324.50 H285.47 M282.27,321.30 V327.70" stroke="#a030f0" stroke-width="0.75" fill="none"/>
<circle cx="328.98" cy="322.30" r="3.20" fill="none" stroke="#a030f0" stroke-width="0.95"/><path d="M325.78,322.30 H332.18 M328.98,319.10 V325.50" stroke="#a030f0" stroke-width="0.75" fill="none"/>
<circle cx="375.68" cy="322.10" r="3.20" fill="none" stroke="#a030f0" stroke-width="0.95"/><path d="M372.48,322.10 H378.88 M375.68,318.90 V325.30" stroke="#a030f0" stroke-width="0.75" fill="none"/>
<circle cx="422.38" cy="322.10" r="3.20" fill="none" stroke="#a030f0" stroke-width="0.95"/><path d="M419.19,322.10 H425.58 M422.38,318.90 V325.30" stroke="#a030f0" stroke-width="0.75" fill="none"/>
<circle cx="469.09" cy="322.30" r="3.20" fill="none" stroke="#a030f0" stroke-width="0.95"/><path d="M465.89,322.30 H472.29 M469.09,319.10 V325.50" stroke="#a030f0" stroke-width="0.75" fill="none"/>
<circle cx="515.80" cy="323.30" r="3.20" fill="none" stroke="#a030f0" stroke-width="0.95"/><path d="M512.60,323.30 H519.00 M515.80,320.10 V326.50" stroke="#a030f0" stroke-width="0.75" fill="none"/>
<circle cx="562.50" cy="324.50" r="3.20" fill="none" stroke="#a030f0" stroke-width="0.95"/><path d="M559.30,324.50 H565.70 M562.50,321.30 V327.70" stroke="#a030f0" stroke-width="0.75" fill="none"/>
<path d="M95.45,370.70 L91.25,375.30 L95.45,379.90 Z" fill="#000"/><path d="M95.45,370.70 L99.65,375.30 L95.45,379.90 L91.25,375.30 Z" fill="none" stroke="#000" stroke-width="1.1"/>
<path d="M142.16,355.40 L137.96,360.00 L142.16,364.60 Z" fill="#000"/><path d="M142.16,355.40 L146.35,360.00 L142.16,364.60 L137.96,360.00 Z" fill="none" stroke="#000" stroke-width="1.1"/>
<path d="M188.86,345.60 L184.66,350.20 L188.86,354.80 Z" fill="#000"/><path d="M188.86,345.60 L193.06,350.20 L188.86,354.80 L184.66,350.20 Z" fill="none" stroke="#000" stroke-width="1.1"/>
<path d="M235.56,340.10 L231.37,344.70 L235.56,349.30 Z" fill="#000"/><path d="M235.56,340.10 L239.76,344.70 L235.56,349.30 L231.37,344.70 Z" fill="none" stroke="#000" stroke-width="1.1"/>
<path d="M282.27,336.80 L278.07,341.40 L282.27,346.00 Z" fill="#000"/><path d="M282.27,336.80 L286.47,341.40 L282.27,346.00 L278.07,341.40 Z" fill="none" stroke="#000" stroke-width="1.1"/>
<path d="M328.98,335.40 L324.78,340.00 L328.98,344.60 Z" fill="#000"/><path d="M328.98,335.40 L333.18,340.00 L328.98,344.60 L324.78,340.00 Z" fill="none" stroke="#000" stroke-width="1.1"/>
<path d="M375.68,334.90 L371.48,339.50 L375.68,344.10 Z" fill="#000"/><path d="M375.68,334.90 L379.88,339.50 L375.68,344.10 L371.48,339.50 Z" fill="none" stroke="#000" stroke-width="1.1"/>
<path d="M422.38,334.90 L418.19,339.50 L422.38,344.10 Z" fill="#000"/><path d="M422.38,334.90 L426.58,339.50 L422.38,344.10 L418.19,339.50 Z" fill="none" stroke="#000" stroke-width="1.1"/>
<path d="M469.09,334.90 L464.89,339.50 L469.09,344.10 Z" fill="#000"/><path d="M469.09,334.90 L473.29,339.50 L469.09,344.10 L464.89,339.50 Z" fill="none" stroke="#000" stroke-width="1.1"/>
<path d="M515.80,335.60 L511.60,340.20 L515.80,344.80 Z" fill="#000"/><path d="M515.80,335.60 L520.00,340.20 L515.80,344.80 L511.60,340.20 Z" fill="none" stroke="#000" stroke-width="1.1"/>
<path d="M562.50,336.60 L558.30,341.20 L562.50,345.80 Z" fill="#000"/><path d="M562.50,336.60 L566.70,341.20 L562.50,345.80 L558.30,341.20 Z" fill="none" stroke="#000" stroke-width="1.1"/>
</g>
<g font-size="21" letter-spacing="0"><text x="94.6" y="445.20" text-anchor="end">1400</text><text x="94.6" y="343.18" text-anchor="end">1500</text><text x="94.6" y="241.15" text-anchor="end">1600</text><text x="94.6" y="139.12" text-anchor="end">1700</text><text x="94.6" y="37.10" text-anchor="end">1800</text><text x="95.85" y="460.6" text-anchor="middle">1000</text><text x="142.56" y="460.6" text-anchor="middle">1050</text><text x="189.26" y="460.6" text-anchor="middle">1100</text><text x="235.97" y="460.6" text-anchor="middle">1150</text><text x="282.67" y="460.6" text-anchor="middle">1200</text><text x="329.38" y="460.6" text-anchor="middle">1250</text><text x="376.08" y="460.6" text-anchor="middle">1300</text><text x="422.78" y="460.6" text-anchor="middle">1350</text><text x="469.49" y="460.6" text-anchor="middle">1400</text><text x="516.20" y="460.6" text-anchor="middle">1450</text><text x="562.90" y="460.6" text-anchor="middle">1500</text></g>
<text x="329.1" y="484.8" text-anchor="middle" font-size="23">sintering maximum temperature/&#176;C</text>
<g transform="translate(37.6,340.6) rotate(-90)" font-size="23"><text x="0" y="0">concentration/<tspan dx="13" dy="-3.8" font-size="21.5">(</tspan><tspan dx="3.5" dy="3.8">mg/m</tspan><tspan dy="-15.4" font-size="14">3</tspan><tspan dx="4.3" dy="11.6" font-size="21.5">)</tspan></text></g>
<rect x="565.7" y="42.2" width="76" height="382.1" fill="#fff" stroke="#555" stroke-width="1"/>
<text x="603.3" y="58.7" text-anchor="middle" font-size="16">Alternative</text>
<text x="602.2" y="78.5" text-anchor="middle" font-size="16">ratio</text>
<path d="M567.2,93.50 H581.00 M590.20,93.50 H603.5" stroke="#000000" stroke-width="0.8"/>
<rect x="583.04" y="91.14" width="5.12" height="4.72" fill="#000"/>
<text x="607.2" y="97.90" font-size="16">0%</text>
<path d="M567.2,113.43 H581.00 M590.20,113.43 H603.5" stroke="#ff2020" stroke-width="0.8"/>
<path d="M583.21,109.29 L588.91,113.43 L583.21,117.57 Z" fill="none" stroke="#ff2020" stroke-width="1"/><path d="M584.51,110.29 V116.57" fill="none" stroke="#ff2020" stroke-opacity="0.5" stroke-width="0.8"/>
<text x="607.2" y="117.83" font-size="16">5%</text>
<path d="M567.2,133.36 H581.00 M590.20,133.36 H603.5" stroke="#00ee00" stroke-width="0.8"/>
<path d="M585.60,129.16 L589.90,136.66 L581.30,136.66 Z" fill="#00ee00"/>
<text x="607.2" y="137.76" font-size="16">10%</text>
<path d="M567.2,153.29 H581.00 M590.20,153.29 H603.5" stroke="#0000ff" stroke-width="0.8"/>
<path d="M585.60,157.49 L589.90,149.99 L581.30,149.99 Z" fill="#0000ff"/>
<text x="607.2" y="157.69" font-size="16">15%</text>
<path d="M567.2,173.22 H581.00 M590.20,173.22 H603.5" stroke="#00ffff" stroke-width="0.8"/>
<path d="M585.60,169.02 L589.80,173.22 L585.60,177.42 L581.40,173.22 Z" fill="#00ffff"/>
<text x="607.2" y="177.62" font-size="16">20%</text>
<path d="M567.2,193.15 H581.00 M590.20,193.15 H603.5" stroke="#ff40ff" stroke-width="0.8"/>
<path d="M581.60,193.15 L588.90,188.75 L588.90,193.15 Z" fill="#000"/><path d="M581.60,193.15 L588.90,188.75 L588.90,197.55 Z" fill="none" stroke="#000" stroke-width="1.1" stroke-linejoin="miter"/>
<text x="607.2" y="197.55" font-size="16">25%</text>
<path d="M567.2,213.08 H581.00 M590.20,213.08 H603.5" stroke="#ffff00" stroke-width="0.8"/>
<path d="M590.40,213.08 L583.10,208.88 L583.10,217.28 Z" fill="#ffff00"/>
<text x="607.2" y="217.48" font-size="16">30%</text>
<path d="M567.2,233.01 H581.00 M590.20,233.01 H603.5" stroke="#9a9a3a" stroke-width="0.8"/>
<path d="M590.40,233.01 L583.60,237.11 L583.60,233.01 Z" fill="#000"/><path d="M590.40,233.01 L583.60,228.91 L583.60,237.11 Z" fill="none" stroke="#000" stroke-width="1.1"/>
<text x="607.2" y="237.41" font-size="16">35%</text>
<path d="M567.2,252.94 H581.00 M590.20,252.94 H603.5" stroke="#2a2aa8" stroke-width="0.8"/>
<polygon points="585.60,248.84 586.66,251.78 589.78,251.88 587.31,253.80 588.19,256.80 585.60,255.04 583.01,256.80 583.89,253.80 581.42,251.88 584.54,251.78" fill="#000080"/>
<text x="607.2" y="257.34" font-size="16">40%</text>
<path d="M567.2,272.87 H581.00 M590.20,272.87 H603.5" stroke="#b030b0" stroke-width="0.8"/>
<polygon points="585.60,268.97 589.78,272.01 588.19,276.93 583.01,276.93 581.42,272.01" fill="#800080" stroke="#800080" stroke-width="0.6" stroke-linejoin="round"/>
<text x="607.2" y="277.27" font-size="16">45%</text>
<path d="M567.2,292.80 H581.00 M590.20,292.80 H603.5" stroke="#c03838" stroke-width="0.8"/>
<path d="M585.60,289.60 A3.20,3.20 0 0 1 585.60,296.00 Z" fill="#000"/><circle cx="585.60" cy="292.80" r="3.20" fill="none" stroke="#000" stroke-width="1"/>
<text x="607.2" y="297.20" font-size="16">50%</text>
<path d="M567.2,312.73 H581.00 M590.20,312.73 H603.5" stroke="#30a030" stroke-width="0.8"/>
<path d="M582.30,312.73 H588.90 M585.60,309.43 V316.03" stroke="#2a9a2a" stroke-width="1.05" fill="none"/>
<text x="607.2" y="317.13" font-size="16">55%</text>
<path d="M567.2,332.66 H581.00 M590.20,332.66 H603.5" stroke="#30a0a0" stroke-width="0.8"/>
<rect x="582.80" y="329.86" width="5.60" height="5.60" fill="none" stroke="#3a3a3a" stroke-width="1.1"/><rect x="585.10" y="332.16" width="1" height="1" fill="#bbb"/>
<text x="607.2" y="337.06" font-size="16">60%</text>
<path d="M567.2,352.59 H581.00 M590.20,352.59 H603.5" stroke="#3030d0" stroke-width="0.8"/>
<path d="M585.60,349.19 V355.99 M581.60,349.19 L589.60,355.99 M589.60,349.19 L581.60,355.99" stroke="#3030d0" stroke-width="0.9" fill="none"/>
<text x="607.2" y="356.99" font-size="16">65%</text>
<path d="M567.2,372.52 H581.00 M590.20,372.52 H603.5" stroke="#ff9a40" stroke-width="0.8"/>
<rect x="582.60" y="369.52" width="6.00" height="6.00" fill="none" stroke="#ff8c1a" stroke-width="0.95"/><path d="M582.60,369.52 L588.60,375.52 M588.60,369.52 L582.60,375.52" stroke="#ff8c1a" stroke-width="0.6" fill="none"/>
<text x="607.2" y="376.92" font-size="16">70%</text>
<path d="M567.2,392.45 H581.00 M590.20,392.45 H603.5" stroke="#a040ff" stroke-width="0.8"/>
<circle cx="585.60" cy="392.45" r="3.20" fill="none" stroke="#a030f0" stroke-width="0.95"/><path d="M582.40,392.45 H588.80 M585.60,389.25 V395.65" stroke="#a030f0" stroke-width="0.75" fill="none"/>
<text x="607.2" y="396.85" font-size="16">75%</text>
<path d="M567.2,412.38 H581.00 M590.20,412.38 H603.5" stroke="#ff3399" stroke-width="0.8"/>
<path d="M585.60,407.78 L581.40,412.38 L585.60,416.98 Z" fill="#000"/><path d="M585.60,407.78 L589.80,412.38 L585.60,416.98 L581.40,412.38 Z" fill="none" stroke="#000" stroke-width="1.1"/>
<text x="607.2" y="416.78" font-size="16">80%</text>
</svg>
</body></html>
